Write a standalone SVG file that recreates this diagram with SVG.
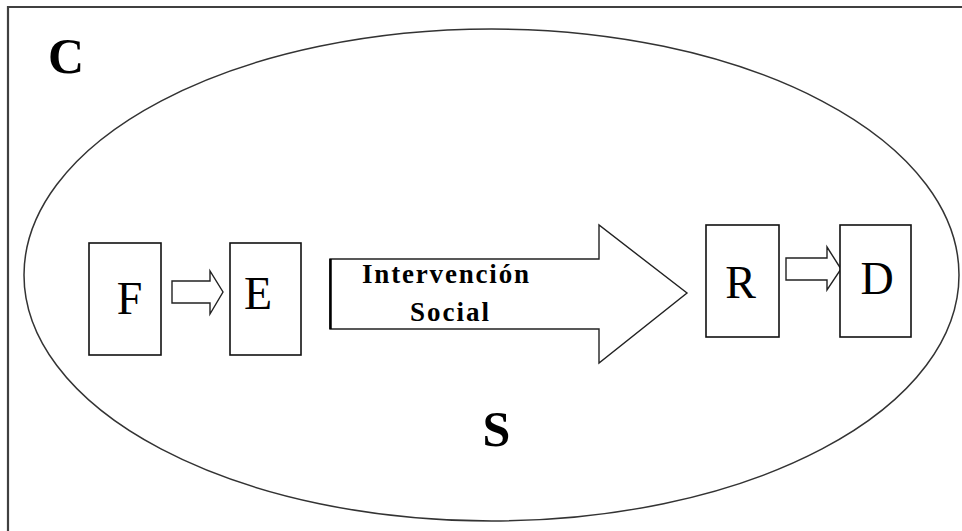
<svg xmlns="http://www.w3.org/2000/svg" width="962" height="531" viewBox="0 0 962 531">
<style>
.box{fill:#fff;stroke:#111;stroke-width:1.6}
.arr{fill:#fff;stroke:#222;stroke-width:1.4;stroke-linejoin:miter}
.lbl{font-family:"Liberation Serif","Times New Roman",serif;font-size:46px;fill:#000;text-anchor:middle}
.big{font-family:"Liberation Serif","Times New Roman",serif;font-weight:bold;fill:#000;text-anchor:middle}
.iv{font-family:"Liberation Serif","DejaVu Serif",serif;font-weight:bold;font-size:27px;fill:#000}
</style>
<rect x="0" y="0" width="962" height="531" fill="#fff"/>
<g id="frame">
<path d="M8,531 V7 H962" fill="none" stroke="#404040" stroke-width="2.2"/>
<text class="big" x="66" y="73" font-size="50">C</text>
</g>
<g id="S">
<ellipse cx="491.5" cy="275" rx="467.5" ry="246" fill="none" stroke="#333" stroke-width="1.5"/>
<text class="big" x="496.5" y="446" font-size="50">S</text>
</g>
<g id="connectors">
<path class="arr" d="M172,281 H210 V271 L223,292 L210,314 V303 H172 Z"/>
<path class="arr" d="M330,259 H599 V225 L687,293 L599,363 V329 H330 Z"/>
<line x1="330.5" y1="259" x2="330.5" y2="329" stroke="#000" stroke-width="2.5"/>
<path class="arr" d="M786,258 H827 V247 L841,269 L827,290 V280 H786 Z"/>
</g>
<g id="node-intervencion">
<text class="iv" font-family="Liberation Serif, serif" x="362" y="283" textLength="167" lengthAdjust="spacing">Intervención</text>
<text class="iv" font-family="Liberation Serif, serif" x="410" y="321" textLength="79" lengthAdjust="spacing">Social</text>
</g>
<g id="node-F">
<rect class="box" x="89" y="243" width="72" height="112"/>
<text class="lbl" x="129.5" y="314">F</text>
</g>
<g id="node-E">
<rect class="box" x="230" y="243" width="71" height="112"/>
<text class="lbl" x="258" y="309">E</text>
</g>
<g id="node-R">
<rect class="box" x="706" y="225" width="73" height="112"/>
<text class="lbl" x="740.5" y="298">R</text>
</g>
<g id="node-D">
<rect class="box" x="840" y="225" width="71" height="112"/>
<text class="lbl" x="877" y="294">D</text>
</g>
</svg>
